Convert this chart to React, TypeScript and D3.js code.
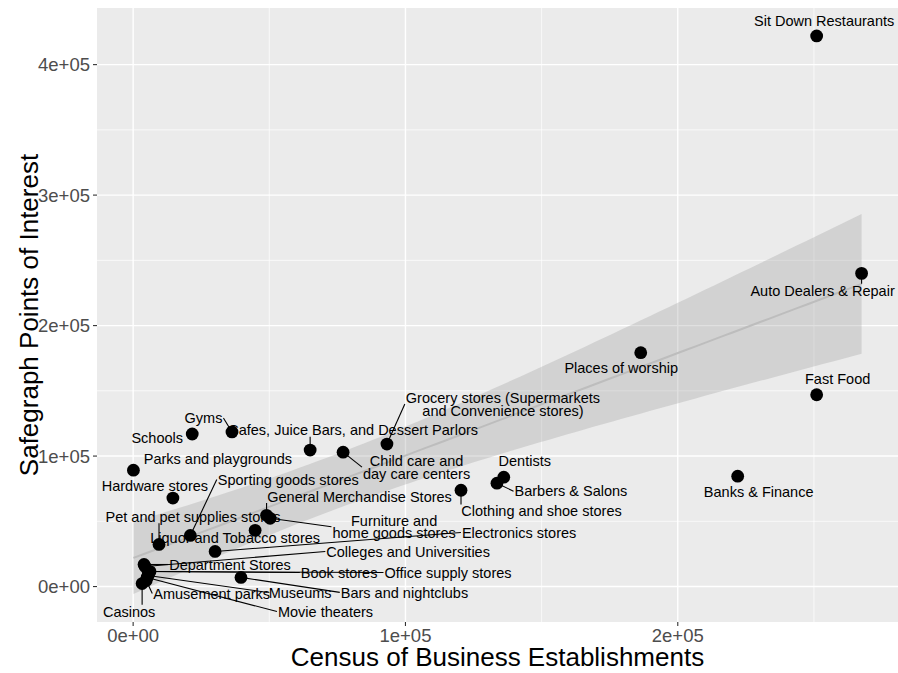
import React, { useEffect, useRef } from "react";
import * as d3 from "d3";

// Business categories (label text; "\n" splits a label onto two lines)
const categories = [
  "Sit Down Restaurants",
  "Auto Dealers & Repair",
  "Fast Food",
  "Banks & Finance",
  "Places of worship",
  "Dentists",
  "Barbers & Salons",
  "Clothing and shoe stores",
  "Grocery stores (Supermarkets\nand Convenience stores)",
  "Child care and\nday care centers",
  "Cafes, Juice Bars, and Dessert Parlors",
  "Gyms",
  "Schools",
  "Parks and playgrounds",
  "Hardware stores",
  "Sporting goods stores",
  "Pet and pet supplies stores",
  "Liquor and Tobacco stores",
  "General Merchandise Stores",
  "Furniture and\nhome goods stores",
  "Electronics stores",
  "Colleges and Universities",
  "Department Stores",
  "Book stores",
  "Office supply stores",
  "Museums",
  "Movie theaters",
  "Amusement parks",
  "Casinos",
  "Bars and nightclubs",
];

// Census of Business Establishments count per category
const censusEstablishments = [
  251000, 267500, 251000, 222000, 186400, 136100, 133600, 120400, 93200, 77100,
  65000, 36300, 21700, 100, 14600, 21000, 9500, 44800, 49000, 50300,
  30100, 4400, 4000, 5500, 6200, 5500, 5100, 4800, 3300, 39600,
];

// Safegraph points of interest per category
const safegraphPOI = [
  422000, 240000, 147000, 84600, 179200, 83800, 79200, 73800, 109200, 103000,
  104600, 118500, 116900, 89200, 67800, 39200, 32300, 43100, 54600, 52300,
  26900, 15400, 16900, 11500, 11500, 8500, 6900, 4600, 2300, 7000,
];

const xTickValues = [0, 1e5, 2e5];
const xTickLabels = ["0e+00", "1e+05", "2e+05"];
const yTickValues = [0, 1e5, 2e5, 3e5, 4e5];
const yTickLabels = ["0e+00", "1e+05", "2e+05", "3e+05", "4e+05"];
const xMinorValues = [0.5e5, 1.5e5, 2.5e5];
const yMinorValues = [0.5e5, 1.5e5, 2.5e5, 3.5e5];

// Repelled label placement: offset (px) of label centre from its point, and whether a leader segment is drawn
const labelLayout: [number, number, boolean][] = [
  [7.5, -15, false],
  [-39, 17, true],
  [21, -16, false],
  [21, 16, false],
  [-19.5, 15, false],
  [21, -16, false],
  [74, 8, true],
  [80.5, 21, true],
  [116, -40, true],
  [73.5, 15, true],
  [43, -20, true],
  [-28.5, -14, true],
  [-35, 4, false],
  [84.5, -11, false],
  [-18, -12, false],
  [98, -56, true],
  [34, -28, true],
  [-20, 7, false],
  [93, -19, true],
  [124, 8.5, true],
  [304, -19, true],
  [263, -15, true],
  [86, 0, true],
  [191, 1, true],
  [298, 1, true],
  [152, 17, true],
  [178.5, 34, true],
  [65.5, 13, true],
  [-13, 28, true],
  [163.5, 15, true],
];

// Student t quantile (97.5%) via Cornish-Fisher expansion
function tQuantile(df: number) {
  const z = 1.959963985;
  const g1 = (z ** 3 + z) / 4;
  const g2 = (5 * z ** 5 + 16 * z ** 3 + 3 * z) / 96;
  const g3 = (3 * z ** 7 + 19 * z ** 5 + 17 * z ** 3 - 15 * z) / 384;
  return z + g1 / df + g2 / df ** 2 + g3 / df ** 3;
}

const FONT = "'Liberation Sans', Arial, Helvetica, sans-serif";

export default function App() {
  const ref = useRef<SVGSVGElement>(null);

  useEffect(() => {
    const svg = d3.select(ref.current!);
    svg.selectAll("*").remove();

    const W = 898;
    const H = 673;
    const panel = { left: 97, right: 898, top: 8, bottom: 622 };

    // Linear model fit with 95% confidence band
    const n = categories.length;
    const xs = censusEstablishments;
    const ys = safegraphPOI;
    const mx = d3.mean(xs)!;
    const my = d3.mean(ys)!;
    let sxx = 0;
    let sxy = 0;
    for (let i = 0; i < n; i++) {
      sxx += (xs[i] - mx) ** 2;
      sxy += (xs[i] - mx) * (ys[i] - my);
    }
    const b1 = sxy / sxx;
    const b0 = my - b1 * mx;
    let rss = 0;
    for (let i = 0; i < n; i++) rss += (ys[i] - (b0 + b1 * xs[i])) ** 2;
    const s = Math.sqrt(rss / (n - 2));
    const tq = tQuantile(n - 2);
    const [xLo, xHi] = d3.extent(xs) as [number, number];
    const band = d3.range(80).map((i) => {
      const xv = xLo + ((xHi - xLo) * i) / 79;
      const fit = b0 + b1 * xv;
      const se = s * Math.sqrt(1 / n + (xv - mx) ** 2 / sxx);
      return { x: xv, fit, lo: fit - tq * se, hi: fit + tq * se };
    });

    const yLo = Math.min(d3.min(ys)!, d3.min(band, (d) => d.lo)!);
    const yHi = Math.max(d3.max(ys)!, d3.max(band, (d) => d.hi)!);
    const xPad = (xHi - xLo) * 0.05;
    const yPad = (yHi - yLo) * 0.05;

    const x = d3
      .scaleLinear()
      .domain([xLo - xPad, xHi + xPad])
      .range([panel.left, panel.right]);
    const y = d3
      .scaleLinear()
      .domain([yLo - yPad, yHi + yPad])
      .range([panel.bottom, panel.top]);

    svg.append("rect").attr("width", W).attr("height", H).attr("fill", "#ffffff");

    const plot = svg.append("g");
    plot
      .append("rect")
      .attr("x", panel.left)
      .attr("y", panel.top)
      .attr("width", panel.right - panel.left)
      .attr("height", panel.bottom - panel.top)
      .attr("fill", "#EBEBEB");

    // grid lines
    const grid = plot.append("g").attr("stroke", "#ffffff");
    grid
      .selectAll("line.vminor")
      .data(xMinorValues)
      .join("line")
      .attr("x1", (d) => x(d))
      .attr("x2", (d) => x(d))
      .attr("y1", panel.top)
      .attr("y2", panel.bottom)
      .attr("stroke-width", 0.7);
    grid
      .selectAll("line.hminor")
      .data(yMinorValues)
      .join("line")
      .attr("y1", (d) => y(d))
      .attr("y2", (d) => y(d))
      .attr("x1", panel.left)
      .attr("x2", panel.right)
      .attr("stroke-width", 0.7);
    grid
      .selectAll("line.vmajor")
      .data(xTickValues)
      .join("line")
      .attr("x1", (d) => x(d))
      .attr("x2", (d) => x(d))
      .attr("y1", panel.top)
      .attr("y2", panel.bottom)
      .attr("stroke-width", 1.4);
    grid
      .selectAll("line.hmajor")
      .data(yTickValues)
      .join("line")
      .attr("y1", (d) => y(d))
      .attr("y2", (d) => y(d))
      .attr("x1", panel.left)
      .attr("x2", panel.right)
      .attr("stroke-width", 1.4);

    // smooth band and fitted line
    const area = d3
      .area<{ x: number; lo: number; hi: number }>()
      .x((d) => x(d.x))
      .y0((d) => y(d.lo))
      .y1((d) => y(d.hi));
    plot.append("path").attr("d", area(band)!).attr("fill", "#999999").attr("fill-opacity", 0.3);
    const line = d3
      .line<{ x: number; fit: number }>()
      .x((d) => x(d.x))
      .y((d) => y(d.fit));
    plot
      .append("path")
      .attr("d", line(band)!)
      .attr("fill", "none")
      .attr("stroke", "#BDBDBD")
      .attr("stroke-width", 2);

    const segLayer = plot.append("g").attr("stroke", "#000000").attr("stroke-width", 1.1);

    // points
    plot
      .append("g")
      .selectAll("circle")
      .data(d3.range(n))
      .join("circle")
      .attr("cx", (i) => x(xs[i]))
      .attr("cy", (i) => y(ys[i]))
      .attr("r", 6.4)
      .attr("fill", "#000000");

    // labels
    const fs = 14.5;
    const lineGap = 12.5;
    const labelLayer = plot.append("g").attr("font-family", FONT).attr("font-size", fs).attr("fill", "#000000");
    categories.forEach((label, i) => {
      const px = x(xs[i]);
      const py = y(ys[i]);
      const [dx, dy, withSegment] = labelLayout[i];
      const cx = px + dx;
      const cy = py + dy;
      const lines = label.split("\n");
      const text = labelLayer
        .append("text")
        .attr("text-anchor", "middle")
        .attr("x", cx)
        .attr("y", cy - ((lines.length - 1) / 2) * lineGap + fs * 0.36);
      const spans = lines.map((ln, k) =>
        text
          .append("tspan")
          .attr("x", cx)
          .attr("dy", k === 0 ? 0 : lineGap)
          .text(ln)
      );
      const w = d3.max(spans, (sp) => (sp.node() as SVGTSpanElement).getComputedTextLength())!;
      if (!withSegment) return;
      const half = (lines.length * lineGap) / 2 + 0.5;
      const left = cx - w / 2 - 1;
      const right = cx + w / 2 + 1;
      const top = cy - half;
      const bottom = cy + half;
      let ex: number;
      let ey: number;
      if (px < left - 3) {
        ex = left;
        ey = cy;
      } else if (px > right + 3) {
        ex = right;
        ey = cy;
      } else {
        ex = Math.min(Math.max(px, left), right);
        ey = py < top ? top : bottom;
      }
      segLayer.append("line").attr("x1", px).attr("y1", py).attr("x2", ex).attr("y2", ey);
    });

    // axes ticks
    const axes = svg.append("g").attr("stroke", "#333333").attr("stroke-width", 1.1);
    xTickValues.forEach((v) => {
      axes.append("line").attr("x1", x(v)).attr("x2", x(v)).attr("y1", panel.bottom).attr("y2", panel.bottom + 4);
    });
    yTickValues.forEach((v) => {
      axes.append("line").attr("y1", y(v)).attr("y2", y(v)).attr("x1", panel.left - 4).attr("x2", panel.left);
    });

    const tickText = svg.append("g").attr("font-family", FONT).attr("font-size", 18.5).attr("fill", "#4D4D4D");
    xTickValues.forEach((v, i) => {
      tickText
        .append("text")
        .attr("x", x(v))
        .attr("y", 642)
        .attr("text-anchor", "middle")
        .text(xTickLabels[i]);
    });
    yTickValues.forEach((v, i) => {
      tickText
        .append("text")
        .attr("x", 90)
        .attr("y", y(v) + 6.6)
        .attr("text-anchor", "end")
        .text(yTickLabels[i]);
    });

    // axis titles
    svg
      .append("text")
      .attr("x", (panel.left + panel.right) / 2)
      .attr("y", 666)
      .attr("text-anchor", "middle")
      .attr("font-family", FONT)
      .attr("font-size", 26)
      .attr("fill", "#000000")
      .text("Census of Business Establishments");
    svg
      .append("text")
      .attr("transform", `translate(38, ${(panel.top + panel.bottom) / 2}) rotate(-90)`)
      .attr("text-anchor", "middle")
      .attr("font-family", FONT)
      .attr("font-size", 26)
      .attr("fill", "#000000")
      .text("Safegraph Points of Interest");
  }, []);

  return (
    <svg
      ref={ref}
      width={898}
      height={673}
      style={{ position: "absolute", left: 0, top: 0, display: "block" }}
    />
  );
}
